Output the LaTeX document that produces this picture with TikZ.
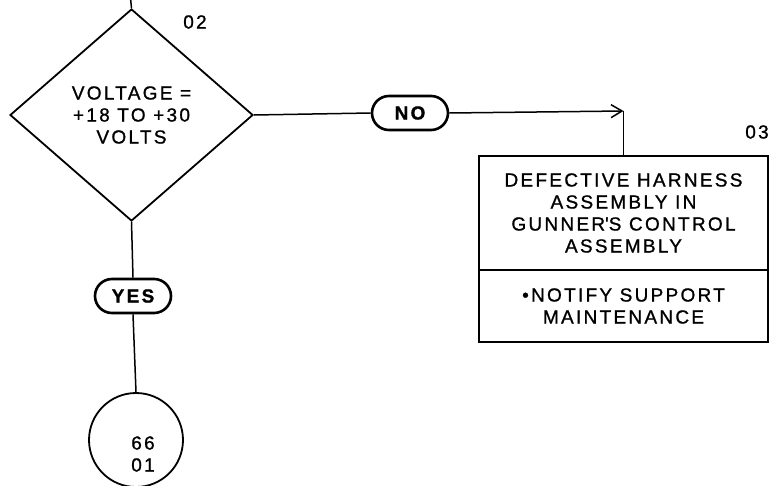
\documentclass[tikz,border=0pt]{standalone}
\usepackage{fontspec}
\setmainfont{Liberation Sans}[LetterSpace=12, FakeBold=1]
\usetikzlibrary{shapes.geometric,shapes.misc,arrows.meta}
\begin{document}
\begin{tikzpicture}[x=1pt,y=-1pt,
  conn/.style={line width=1.5pt},
  txt/.style={font=\fontsize{19}{22}\selectfont, align=center, inner sep=0pt},
  decision/.style={diamond, draw, line width=1.8pt, minimum width=243pt, minimum height=212pt, inner sep=0pt, txt},
  pill/.style={rounded rectangle, draw, line width=2.6pt, minimum width=76pt, minimum height=34pt, inner sep=0pt, font=\fontsize{19}{22}\bfseries\selectfont},
  boxpart/.style={rectangle, draw, line width=1.8pt, minimum width=289pt, inner sep=0pt, txt},
  connector/.style={circle, draw, line width=1.8pt, minimum size=94pt, inner sep=0pt},
  ref/.style={txt}
]
\useasboundingbox (0,0) rectangle (769,485);

\coordinate (topin) at (130.5,-2);
\node[decision] (d) at (131.5,115) {VOLTAGE =\\+18 TO +30\\VOLTS};
\node[ref] (n02) at (195,22) {02};

\node[pill] (no) at (410,113) {NO};
\coordinate (corner) at (623.5,111);

\node[boxpart, minimum height=114pt] (b1) at (623.5,213) {DEFECTIVE HARNESS\\ASSEMBLY IN\\GUNNER\textquotesingle S CONTROL\\ASSEMBLY};
\node[boxpart, minimum height=72pt] (b2) at (623.5,306) {\textbullet NOTIFY SUPPORT\\MAINTENANCE};
\node[ref] (n03) at (757,132) {03};

\node[pill] (yes) at (133,296) {YES};
\node[connector] (c) at (136,440) {};
\node[txt] (ctxt) at (143,454) {66\\01};

\draw[conn] (topin) -- (d.north);
\draw[conn] (d.east) -- (no.west);
\draw[conn, -{Straight Barb[length=11pt, width=13pt, line width=1.5pt]}] (no.east) -- (corner);
\draw[conn] (corner) -- (b1.north);
\draw[conn] (d.south) -- (yes.north);
\draw[conn] (yes.south) -- (c.north);
\end{tikzpicture}
\end{document}
